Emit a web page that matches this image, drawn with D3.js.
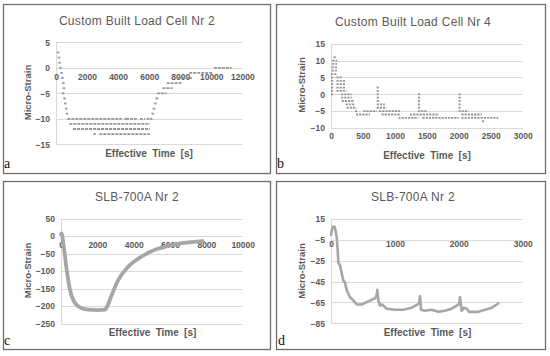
<!DOCTYPE html>
<html><head><meta charset="utf-8">
<script src="https://cdnjs.cloudflare.com/ajax/libs/d3/7.8.5/d3.min.js"></script>
<style>body{margin:0;background:#fff}svg{display:block}text{font-family:"Liberation Sans",Arial,sans-serif}</style>
</head><body><svg id="chart" width="550" height="356"></svg>
<script>
// ---------- DATA ----------
const titles = ["Custom Built Load Cell Nr 2", "Custom Built Load Cell Nr 4", "SLB-700A Nr 2", "SLB-700A Nr 2"];
const panelLetters = ["a", "b", "c", "d"];
const xAxisTitle = "Effective Time [s]";
const yAxisTitle = "Micro-Strain";

const aXTicks = [0, 2000, 4000, 6000, 8000, 10000, 12000];
const aYTicks = [-15, -10, -5, 0, 5];
const bXTicks = [0, 500, 1000, 1500, 2000, 2500, 3000];
const bYTicks = [-10, -5, 0, 5, 10, 15];
const cXTicks = [0, 2000, 4000, 6000, 8000, 10000];
const cYTicks = [-250, -200, -150, -100, -50, 0, 50];
const dXTicks = [0, 1000, 2000, 3000];
const dYTicks = [-85, -65, -45, -25, -5, 15];

// Load cell Nr 2: runs of integer readings [strain, tStart, tEnd]
const cell2Runs = [
  [3, 60, 110], [2, 110, 160], [1, 150, 210], [0, 200, 280], [-1, 280, 360], [-2, 330, 410],
  [-3, 390, 470], [-4, 430, 510], [-5, 380, 520], [-6, 470, 540], [-7, 520, 600], [-8, 580, 660], [-9, 640, 720],
  [-10, 730, 4010], [-10, 4080, 4230], [-10, 4400, 4440], [-10, 4510, 5200], [-10, 5410, 5730], [-10, 5840, 5940], [-10, 6050, 6200],
  [-11, 860, 6050], [-12, 1100, 6050], [-13, 2400, 2460], [-13, 2790, 6050],
  [-9, 6150, 6230], [-8, 6230, 6320], [-7, 6320, 6420], [-6, 6400, 6650], [-5, 6500, 7130],
  [-4, 6850, 7510], [-3, 7130, 8090], [-2, 7850, 8750], [-1, 8580, 10090], [0, 10170, 11310]
];

// Load cell Nr 4: runs of integer readings [strain, tStart, tEnd]
const cell4Runs = [
  [11, 40, 90], [10, 20, 95], [9, 20, 95], [8, 10, 95], [7, 10, 95], [6, 0, 95],
  [5, 0, 20], [5, 85, 170], [4, 0, 20], [4, 85, 220], [3, 0, 20], [3, 85, 230],
  [2, 0, 10], [2, 85, 230], [1, 0, 10], [1, 85, 245], [0, 0, 10], [0, 156, 323],
  [-1, 156, 323], [-2, 167, 360], [-3, 230, 375], [-4, 245, 400], [-5, 375, 420],
  [-6, 390, 610], [-5, 506, 715],
  [2, 715, 750], [1, 715, 750], [0, 715, 750], [-1, 715, 750], [-2, 715, 750],
  [-3, 715, 845], [-4, 715, 870], [-5, 750, 1080], [-6, 790, 1080], [-7, 1054, 1367],
  [0, 1360, 1395], [-1, 1360, 1395], [-2, 1360, 1395], [-3, 1360, 1395], [-4, 1360, 1395],
  [-5, 1360, 1500], [-6, 1236, 1680], [-7, 1430, 2000],
  [0, 1995, 2030], [-1, 1995, 2030], [-2, 1995, 2030], [-3, 1995, 2030], [-4, 1995, 2030],
  [-5, 1995, 2150], [-6, 2040, 2360], [-7, 2040, 2620], [-8, 2360, 2390]
];

// SLB-700A Nr 2, long test
const slbLongTime = [0, 30, 128, 312, 495, 770, 1140, 1500, 2000, 2420, 2515, 2790, 3155, 3700, 4440, 5170, 5900, 6640, 7200, 7800];
const slbLongStrain = [5, 8, -20, -96, -153, -191, -206, -210, -211, -210, -203, -168, -125, -87, -58, -39, -28, -20, -17, -14];

// SLB-700A Nr 2, cyclic test
const slbCycTime = [0, 20, 37, 60, 89, 105, 115, 140, 167, 193, 220, 245, 297, 349, 402, 480, 584, 689, 715, 725,
  741, 767, 800, 871, 1002, 1132, 1262, 1350, 1380, 1393, 1410, 1471, 1575, 1680, 1780, 1889, 1993, 2010, 2019, 2045,
  2080, 2124, 2160, 2202, 2306, 2410, 2515, 2619];
const slbCycStrain = [0, 6, 8, 7, -2, -15, -27, -29, -37, -44, -46, -53, -60, -63, -67, -67, -64, -61, -58, -53,
  -63, -68, -67, -71, -72, -72, -70, -67, -66, -59, -72, -73, -72, -74, -73, -71, -67, -65, -60, -73,
  -70, -71, -74, -74, -74, -72, -70, -66];

// ---------- DRAW ----------
const svg = d3.select("#chart");
const grey = "#595959";
const markColor = "#969696";

function panel(p) {
  const g = svg.append("g");
  g.append("rect").attr("x", p.box[0] + 0.5).attr("y", p.box[1] + 0.5)
    .attr("width", p.box[2] - p.box[0]).attr("height", p.box[3] - p.box[1])
    .attr("fill", "#fff").attr("stroke", "#6e6e6e").attr("stroke-width", 1.3);

  const x = d3.scaleLinear().domain(d3.extent(p.xTicks)).range(p.xr);
  const y = d3.scaleLinear().domain(d3.extent(p.yTicks)).range(p.yr);

  g.append("g").selectAll("line").data(p.yTicks).join("line")
    .attr("x1", p.xr[0]).attr("x2", p.xr[1])
    .attr("y1", d => Math.round(y(d)) + 0.5).attr("y2", d => Math.round(y(d)) + 0.5)
    .attr("stroke", "#d9d9d9").attr("stroke-width", 1);
  g.append("line").attr("x1", Math.round(p.xr[0]) + 0.5).attr("x2", Math.round(p.xr[0]) + 0.5)
    .attr("y1", p.yr[1]).attr("y2", p.yr[0]).attr("stroke", "#d9d9d9");

  const yAx = d3.axisLeft(y).tickValues(p.yTicks).tickSize(0).tickPadding(6);
  const ya = g.append("g").attr("transform", `translate(${p.xr[0]},0)`).call(yAx);
  ya.select(".domain").remove();
  ya.selectAll("text").attr("font-family", "Liberation Sans, Arial, sans-serif")
    .attr("font-size", 8.5).attr("font-weight", "bold").attr("fill", grey);

  const xAx = d3.axisBottom(x).tickValues(p.xTicks).tickSize(0).tickPadding(p.xPad).tickFormat(d3.format("d"));
  const xa = g.append("g").attr("transform", `translate(0,${y(p.xAt)})`).call(xAx);
  xa.select(".domain").remove();
  xa.selectAll("text").attr("font-family", "Liberation Sans, Arial, sans-serif")
    .attr("font-size", 8.5).attr("font-weight", "bold").attr("fill", grey);

  if (p.runs) {
    g.append("g").selectAll("line").data(p.runs).join("line")
      .attr("x1", d => x(d[1])).attr("x2", d => Math.max(x(d[2]), x(d[1]) + 2.5))
      .attr("y1", d => y(d[0])).attr("y2", d => y(d[0]))
      .attr("stroke", markColor).attr("stroke-width", 1.8)
      .attr("stroke-dasharray", p.dash);
  } else {
    const line = d3.line().x(d => x(d[0])).y(d => y(d[1])).curve(p.curve);
    g.append("path").datum(d3.zip(p.t, p.v)).attr("d", line)
      .attr("fill", "none").attr("stroke", "#a6a6a6").attr("stroke-width", p.lw)
      .attr("stroke-linejoin", "round").attr("stroke-linecap", "round");
  }

  g.append("text").attr("x", p.title[0]).attr("y", p.title[1]).attr("text-anchor", "middle")
    .attr("dominant-baseline", "central").attr("font-size", 12).attr("fill", grey)
    .attr("letter-spacing", 0.3).text(p.titleText);
  g.append("text").attr("x", p.xt[0]).attr("y", p.xt[1]).attr("text-anchor", "middle")
    .attr("dominant-baseline", "central").attr("font-size", 10).attr("font-weight", "bold")
    .attr("fill", grey).attr("word-spacing", 2.5).text(xAxisTitle);
  g.append("text").attr("transform", `translate(${p.yt[0]},${p.yt[1]}) rotate(-90)`)
    .attr("text-anchor", "middle").attr("dominant-baseline", "central").attr("font-size", 9.5)
    .attr("font-weight", "bold").attr("fill", grey).text(yAxisTitle);
  g.append("text").attr("x", p.letter[0]).attr("y", p.letter[1])
    .style("font-family", "'Liberation Serif', serif")
    .attr("font-size", 14).attr("fill", "#111").text(p.letterText);
}

panel({box: [3, 4, 270, 173], xr: [56, 242.3], yr: [144.3, 42.3], xTicks: aXTicks, yTicks: aYTicks, xAt: 0, xPad: 6,
  runs: cell2Runs, dash: "3,1", titleText: titles[0], title: [137, 21], xt: [149, 153], yt: [27, 92.5],
  letter: [4, 168], letterText: panelLetters[0]});
panel({box: [276, 4, 545, 173], xr: [331, 522.7], yr: [128, 43.7], xTicks: bXTicks, yTicks: bYTicks, xAt: -10, xPad: 5,
  runs: cell4Runs, dash: "2.2,1", titleText: titles[1], title: [413, 22], xt: [427, 155], yt: [301, 85],
  letter: [277, 168], letterText: panelLetters[1]});
panel({box: [3, 181, 270, 349], xr: [61, 242.7], yr: [323.7, 218.7], xTicks: cXTicks, yTicks: cYTicks, xAt: 0, xPad: 6,
  t: slbLongTime, v: slbLongStrain, lw: 3.8, curve: d3.curveMonotoneX, titleText: titles[2], title: [137, 197], xt: [152.5, 332], yt: [27, 270.5],
  letter: [4, 345], letterText: panelLetters[2]});
panel({box: [276, 181, 545, 349], xr: [331, 522.7], yr: [323.3, 219], xTicks: dXTicks, yTicks: dYTicks, xAt: 0, xPad: 6,
  t: slbCycTime, v: slbCycStrain, lw: 2.6, curve: d3.curveLinear, titleText: titles[3], title: [413, 197], xt: [427.5, 332], yt: [301.7, 271],
  letter: [278, 345], letterText: panelLetters[3]});
</script></body></html>
